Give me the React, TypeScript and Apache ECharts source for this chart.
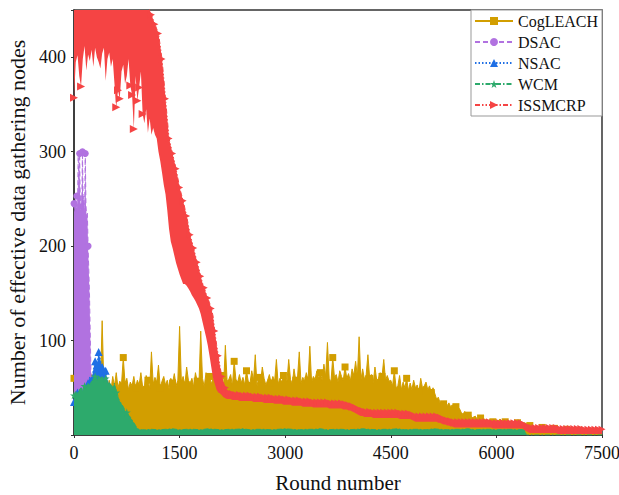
import React, { useEffect, useRef } from "react";
import * as echarts from "echarts";

// ---------------- DATA ----------------
const X_TICKS = [0, 1500, 3000, 4500, 6000, 7500];
const Y_TICKS = [100, 200, 300, 400];

// CogLEACH: upper edge of the dense band, one value every 25 rounds (0..7500)
const COG_STEP = 25;
const cogleach = [
  60, 52, 66, 48, 58, 62, 70, 45, 58, 55, 64, 50, 56, 47, 60, 52, 121, 50, 58, 48,
  58, 47, 62, 52, 66, 50, 57, 54, 82, 55, 60, 48, 56, 52, 62, 50, 58, 53, 66, 51,
  52, 63, 58, 49, 88, 54, 61, 56, 74, 50, 57, 62, 53, 58, 49, 60, 55, 65, 52, 58,
  115, 57, 62, 53, 72, 58, 55, 60, 51, 66, 57, 54, 110, 60, 51, 66, 58, 62, 54, 60,
  58, 70, 54, 57, 63, 52, 95, 57, 59, 64, 52, 78, 59, 56, 64, 55, 61, 53, 68, 57,
  55, 68, 58, 85, 52, 61, 56, 72, 60, 53, 58, 64, 55, 62, 57, 80, 54, 60, 56, 63,
  62, 57, 80, 59, 54, 70, 58, 61, 88, 55, 61, 57, 66, 58, 94, 56, 62, 59, 68, 60,
  66, 58, 75, 62, 98, 60, 56, 82, 61, 64, 56, 68, 62, 58, 72, 60, 65, 57, 70, 63,
  78, 62, 104, 58, 70, 59, 64, 85, 60, 64, 55, 72, 58, 60, 66, 62, 80, 58, 63, 57,
  58, 52, 68, 50, 52, 63, 48, 56, 50, 60, 47, 55, 48, 58, 50, 53, 46, 60, 50, 52,
  56, 48, 52, 45, 50, 44, 38, 40, 34, 36, 33, 35, 31, 34, 30, 32, 29, 30, 27, 28,
  24, 22, 25, 20, 21, 23, 18, 19, 20, 17, 16, 18, 15, 17, 16, 15, 16, 15, 14, 16,
  16, 15, 17, 15, 16, 14, 15, 14, 15, 13, 14, 15, 13, 14, 13, 12, 13, 12, 12, 10,
  9, 8, 9, 8, 8, 7, 8, 7, 8, 7, 7, 8, 7, 7, 6, 7, 6, 7, 7, 6,
  6, 7, 6, 5, 6, 5, 6, 5, 5, 5, 4, 5, 4, 4, 4, 3, 4, 3, 3, 3,
  2,
];

// DSAC: upper edge, rounds 0..300 every 10 rounds
const DSAC_STEP = 10;
const dsac = [
  245, 232, 250, 240, 253, 235, 300, 250, 298, 238, 255, 240, 300, 245, 253, 232,
  298, 243, 230, 235, 200, 175, 150, 110, 70, 30, 5, 2, 0, 0, 0,
];

// NSAC: upper edge, rounds 0..750 every 25 rounds
const NSAC_STEP = 25;
const nsac = [
  35, 42, 45, 40, 46, 35, 42, 50, 55, 62, 58, 70, 78, 74, 88, 80, 72, 66, 68, 58,
  52, 45, 38, 30, 22, 15, 10, 6, 3, 1, 0,
];

// WCM: upper edge, rounds 0..1000 every 25, then 1100..6400 every 100, then end
const WCM_STEP_A = 25;
const wcmA = [
  42, 46, 44, 48, 50, 47, 52, 50, 55, 53, 57, 60, 62, 58, 63, 60, 62, 58, 60, 56,
  55, 54, 50, 55, 45, 40, 36, 33, 30, 26, 24, 21, 19, 16, 13, 10, 7, 6, 5.5, 5.5,
  5.5,
];
const WCM_B_START = 1100;
const WCM_STEP_B = 100;
const wcmB = [
  6, 5.5, 6, 6.5, 5.5, 6, 6, 5.5, 6.5, 6, 5.5, 6, 6, 6.5, 5.5, 6, 6, 5.5,
  6, 6.5, 6, 5.5, 6, 6, 6.5, 5.5, 6, 6, 5.5, 6, 6.5, 6, 5.5, 6, 6, 6.5,
  5.5, 6, 6, 5.5, 6.5, 6, 5.5, 6, 6, 6.5, 5.5, 6, 6, 5.5, 6, 6, 5.5, 6,
];
const wcmTailRounds = [6425, 7500];
const wcmTailValues = [0, 0];

// ISSMCRP: upper and lower edges of its band, every 25 rounds (0..7500)
const ISS_STEP = 25;
const issUpper = [
  460, 460, 460, 460, 460, 460, 460, 460, 460, 460, 460, 460, 460, 460, 460, 460, 460, 460, 460, 460,
  460, 460, 460, 460, 460, 460, 460, 460, 460, 460, 460, 460, 460, 460, 460, 460, 460, 460, 460, 460,
  460, 458, 455, 450, 445, 440, 435, 430, 425, 412, 398, 378, 356, 335, 314, 306, 298, 290, 282, 272,
  262, 255, 248, 240, 232, 222, 212, 205, 198, 190, 183, 176, 168, 161, 156, 150, 145, 140, 134, 126,
  110, 96, 84, 72, 62, 55, 50, 47, 45, 44, 44, 43, 43, 43, 43, 42, 42, 42, 42, 42,
  42, 42, 41, 41, 41, 41, 41, 41, 40, 40, 40, 40, 40, 40, 39, 39, 39, 39, 39, 38,
  38, 38, 38, 38, 37, 37, 37, 37, 37, 37, 36, 36, 36, 36, 36, 36, 35, 35, 35, 35,
  35, 35, 35, 35, 35, 34, 34, 34, 34, 34, 34, 34, 34, 33, 33, 33, 32, 32, 31, 30,
  29, 28, 27, 26, 26, 25, 25, 25, 25, 25, 24, 24, 24, 24, 24, 24, 24, 24, 24, 24,
  24, 24, 24, 24, 24, 23, 23, 23, 23, 23, 23, 23, 22, 21, 20, 20, 20, 20, 20, 20,
  20, 20, 20, 20, 20, 20, 20, 19, 19, 18, 17, 17, 16, 16, 15, 15, 14, 14, 14, 14,
  14, 14, 14, 14, 14, 14, 14, 14, 14, 14, 14, 14, 14, 14, 14, 14, 14, 14, 13, 13,
  13, 13, 13, 13, 13, 13, 13, 13, 13, 13, 13, 13, 13, 13, 13, 13, 11, 10, 9, 8,
  8, 8, 8, 8, 8, 8, 8, 8, 8, 8, 8, 8, 8, 8, 8, 7, 7, 7, 7, 7,
  7, 7, 7, 7, 7, 7, 7, 7, 7, 6, 6, 6, 6, 6, 6, 6, 6, 6, 6, 6,
  6,
];
const issLower = [
  357, 395, 402, 380, 369, 398, 412, 386, 403, 396, 408, 390, 410, 400, 395, 388, 404, 410, 375, 398,
  405, 390, 398, 372, 347, 365, 356, 385, 392, 372, 380, 398, 370, 360, 324, 380, 354, 368, 385, 340,
  330, 345, 320, 335, 318, 325, 318, 314, 300, 290, 278, 265, 255, 238, 218, 205, 198, 190, 182, 176,
  170, 165, 160, 160, 158, 155, 152, 148, 145, 142, 138, 134, 128, 120, 112, 104, 95, 84, 72, 60,
  54, 48, 45, 44, 42, 40, 39, 38, 38, 38, 37, 37, 37, 37, 36, 36, 36, 36, 36, 36,
  36, 36, 35, 35, 35, 35, 35, 35, 34, 34, 34, 34, 34, 34, 33, 33, 33, 33, 33, 32,
  32, 32, 32, 32, 31, 31, 31, 31, 31, 31, 30, 30, 30, 30, 30, 30, 29, 29, 29, 29,
  29, 29, 29, 29, 29, 28, 28, 28, 28, 28, 28, 28, 28, 27, 27, 27, 26, 26, 25, 24,
  23, 22, 21, 20, 20, 19, 19, 19, 19, 19, 18, 18, 18, 18, 18, 18, 18, 18, 18, 18,
  18, 18, 18, 18, 18, 17, 17, 17, 17, 17, 17, 17, 16, 15, 14, 14, 14, 14, 14, 14,
  14, 14, 14, 14, 14, 14, 14, 13, 13, 12, 11, 11, 10, 10, 9, 9, 8, 8, 8, 8,
  8, 8, 8, 8, 8, 8, 8, 8, 8, 8, 8, 8, 8, 8, 8, 8, 8, 8, 7, 7,
  7, 7, 7, 7, 7, 7, 7, 7, 7, 7, 7, 7, 7, 7, 7, 7, 5, 4, 3, 2,
  2, 2, 2, 2, 2, 2, 2, 2, 2, 2, 2, 2, 2, 2, 2, 1, 1, 1, 1, 1,
  1, 1, 1, 1, 1, 1, 1, 1, 1, 1, 1, 1, 1, 1, 1, 1, 1, 1, 1, 1,
  1,
];

const SERIES_NAMES = ["CogLEACH", "DSAC", "NSAC", "WCM", "ISSMCRP"];
const COLORS = ["#D29E00", "#B172E0", "#1F6FE5", "#2DAA6C", "#F54444"];

// ---------------- helpers ----------------
const seg = (start: number, step: number, vals: number[]) =>
  vals.map((v, i) => [start + i * step, v]);

const STAR =
  "path://M50,0 L61,35 L98,35 L68,57 L79,91 L50,70 L21,91 L32,57 L2,35 L39,35 Z";

export default function App() {
  const ref = useRef<HTMLDivElement>(null);

  useEffect(() => {
    if (!ref.current) return;
    const chart = echarts.init(ref.current, undefined, { renderer: "svg" });
    const serif = "'Liberation Serif', 'Times New Roman', serif";

    const cogData = seg(0, COG_STEP, cogleach);
    const dsacData = seg(0, DSAC_STEP, dsac);
    const nsacData = seg(0, NSAC_STEP, nsac);
    const wcmData = [
      ...seg(0, WCM_STEP_A, wcmA),
      ...seg(WCM_B_START, WCM_STEP_B, wcmB),
      ...wcmTailRounds.map((r, i) => [r, wcmTailValues[i]]),
    ];
    const issUpperData = seg(0, ISS_STEP, issUpper);
    const issLowerData = seg(0, ISS_STEP, issLower);

    const base = {
      type: "line",
      showAllSymbol: true,
      clip: true,
      animation: false,
      emphasis: { disabled: true },
    };

    chart.setOption({
      animation: false,
      grid: {
        left: 74,
        right: 17,
        top: 10,
        bottom: 60,
        outerBoundsMode: "none",
        containLabel: false,
        show: true,
        borderColor: "#333",
        borderWidth: 1.5,
        backgroundColor: "transparent",
      },
      legend: {
        orient: "vertical",
        right: 17,
        top: 10,
        itemWidth: 38,
        itemHeight: 10,
        itemGap: 5,
        padding: [3, 4, 3, 3],
        backgroundColor: "#fff",
        borderColor: "#999",
        borderWidth: 1,
        borderRadius: 0,
        textStyle: { fontFamily: serif, fontSize: 16, color: "#111" },
        data: SERIES_NAMES,
        z: 10,
      },
      xAxis: {
        type: "value",
        min: 0,
        max: 7500,
        interval: 1500,
        name: "Round number",
        nameLocation: "middle",
        nameGap: 37,
        nameTextStyle: { fontFamily: serif, fontSize: 21, color: "#111" },
        axisLine: { onZero: false, lineStyle: { color: "#333", width: 1.5 } },
        axisTick: { show: true, length: 3, lineStyle: { color: "#333" } },
        axisLabel: {
          fontFamily: serif,
          fontSize: 18,
          color: "#111",
          margin: 9,
          formatter: (v: number) => (X_TICKS.includes(v) ? String(v) : ""),
        },
        splitLine: { show: false },
      },
      yAxis: {
        type: "value",
        min: 0,
        max: 450,
        interval: 100,
        name: "Number of effective data gathering nodes",
        nameLocation: "middle",
        nameGap: 42,
        nameTextStyle: { fontFamily: serif, fontSize: 22, color: "#111" },
        axisLine: { show: true, onZero: false, lineStyle: { color: "#333", width: 1.5 } },
        axisTick: { show: true, length: 3, lineStyle: { color: "#333" } },
        axisLabel: {
          fontFamily: serif,
          fontSize: 18,
          color: "#111",
          margin: 8,
          formatter: (v: number) => (Y_TICKS.includes(v) ? String(v) : ""),
        },
        splitLine: { show: false },
      },
      series: [
        {
          ...base,
          name: SERIES_NAMES[0],
          data: cogData,
          color: COLORS[0],
          symbol: "rect",
          symbolSize: (_v: any, p: any) => (p && p.dataIndex % 7 === 0 ? 7 : 0),
          lineStyle: { width: 1, type: "solid", color: COLORS[0] },
          itemStyle: { color: COLORS[0] },
          areaStyle: { color: COLORS[0], opacity: 1 },
          z: 1,
        },
        {
          ...base,
          name: SERIES_NAMES[1],
          data: dsacData,
          color: COLORS[1],
          symbol: "circle",
          symbolSize: (_v: any, p: any) => (p && p.dataIndex % 4 === 0 && p.dataIndex < 24 ? 7 : 0),
          lineStyle: { width: 1, type: [5, 3], color: COLORS[1] },
          itemStyle: { color: COLORS[1] },
          areaStyle: { color: COLORS[1], opacity: 1 },
          z: 2,
        },
        {
          ...base,
          name: SERIES_NAMES[2],
          data: nsacData,
          color: COLORS[2],
          symbol: "triangle",
          symbolSize: (_v: any, p: any) => (p && p.dataIndex % 2 === 0 && p.dataIndex < 26 ? 8 : 0),
          lineStyle: { width: 1, type: [1.5, 2], color: COLORS[2] },
          itemStyle: { color: COLORS[2] },
          areaStyle: { color: COLORS[2], opacity: 1 },
          z: 3,
        },
        {
          ...base,
          name: SERIES_NAMES[3],
          data: wcmData,
          color: COLORS[3],
          symbol: STAR,
          symbolSize: (_v: any, p: any) => (p && p.dataIndex % 6 === 0 && p.dataIndex < 36 ? 8 : 0),
          lineStyle: { width: 1, type: [5, 2, 1.5, 2], color: COLORS[3] },
          itemStyle: { color: COLORS[3] },
          areaStyle: { color: COLORS[3], opacity: 1 },
          z: 4,
        },
        {
          type: "custom",
          name: "ISSMCRP band",
          data: [[0, 0]],
          silent: true,
          clip: true,
          z: 5,
          renderItem: (params: any, api: any) => {
            const pts: number[][] = [];
            issUpperData.forEach((d) => pts.push(api.coord(d)));
            for (let i = issLowerData.length - 1; i >= 0; i--) pts.push(api.coord(issLowerData[i]));
            const cs = params.coordSys;
            return {
              type: "polygon",
              shape: { points: pts },
              style: { fill: COLORS[4], stroke: null },
              clipPath: { type: "rect", shape: { x: cs.x, y: cs.y, width: cs.width, height: cs.height } },
            };
          },
        },
        {
          ...base,
          name: "ISSMCRP dips",
          data: issLowerData,
          color: COLORS[4],
          symbol: "triangle",
          symbolRotate: -90,
          symbolSize: (v: any, p: any) => (p && p.dataIndex < 40 && v && v[1] < 372 ? 8 : 0),
          lineStyle: { width: 0, opacity: 0 },
          itemStyle: { color: COLORS[4] },
          z: 6,
        },
        {
          ...base,
          name: SERIES_NAMES[4],
          data: issUpperData,
          color: COLORS[4],
          symbol: "triangle",
          symbolRotate: -90,
          symbolSize: (_v: any, p: any) => (p && p.dataIndex % 2 === 0 ? 7 : 0),
          lineStyle: { width: 1, type: [5, 2, 1.5, 2, 1.5, 2], color: COLORS[4] },
          itemStyle: { color: COLORS[4] },
          z: 7,
        },
      ],
    });

    return () => chart.dispose();
  }, []);

  return (
    <div
      ref={ref}
      style={{ position: "fixed", left: 0, top: 0, width: 619, height: 495, background: "#fff" }}
    />
  );
}
